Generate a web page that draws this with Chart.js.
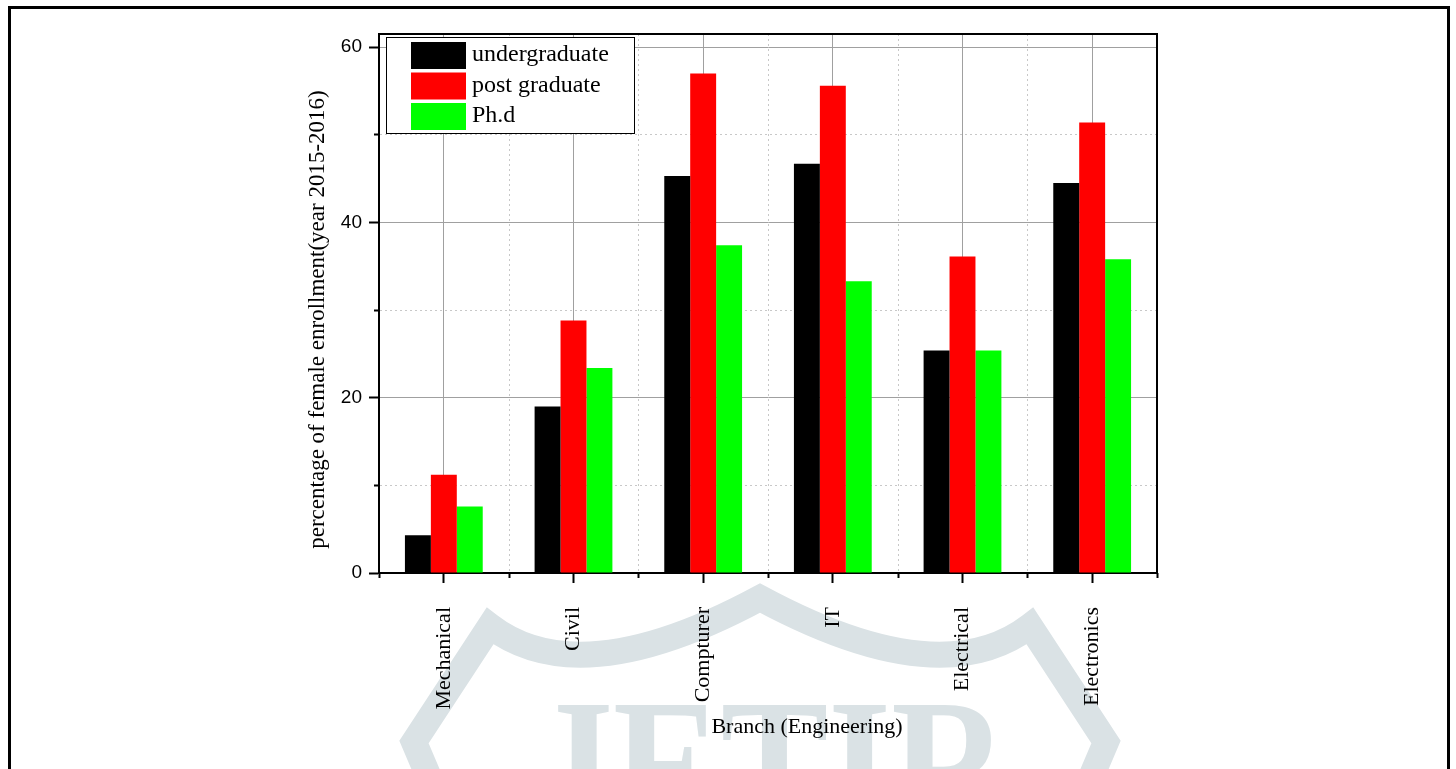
<!DOCTYPE html>
<html>
<head>
<meta charset="utf-8">
<title>Female enrollment by branch</title>
<script src="https://cdn.jsdelivr.net/npm/chart.js@4.4.1/dist/chart.umd.min.js"></script>
<style>
    body { margin: 0; background: #fff; }
    #frame {
        position: absolute; left: 8px; top: 6px;
        width: 1442px; height: 900px;
        box-sizing: border-box; border: 3px solid #000;
    }
    #chart { position: absolute; left: 0; top: 0; }
</style>
</head>
<body>
<div id="frame"></div>
<canvas id="chart" width="1456" height="769"></canvas>
<script>
// Chart data
const branches = ['Mechanical', 'Civil', 'Compturer', 'IT', 'Electrical', 'Electronics'];
const undergraduate = [4.3, 19.0, 45.3, 46.7, 25.4, 44.5];
const postGraduate = [11.2, 28.8, 57.0, 55.6, 36.1, 51.4];
const phd = [7.6, 23.4, 37.4, 33.3, 25.4, 35.8];
const yMax = 61.5;
const yStep = 10;
const yLabelStep = 20;

const serif = '"Liberation Serif", "Times New Roman", serif';
const sans = '"Liberation Sans", Arial, sans-serif';
const majorGrid = '#a0a0a0';
const minorGrid = '#c8c8c8';

// Watermark drawn behind the chart
const watermark = {
    id: 'watermark',
    beforeDraw(chart) {
        const ctx = chart.ctx;
        ctx.save();
        ctx.strokeStyle = '#dae2e5';
        ctx.fillStyle = '#dae2e5';
        ctx.lineWidth = 26;
        ctx.lineJoin = 'miter';
        ctx.beginPath();
        ctx.moveTo(428, 775);
        ctx.lineTo(414, 742);
        ctx.lineTo(490, 626);
        ctx.quadraticCurveTo(580, 695, 760, 598);
        ctx.quadraticCurveTo(940, 695, 1030, 626);
        ctx.lineTo(1106, 742);
        ctx.lineTo(1092, 775);
        ctx.stroke();
        ctx.font = 'bold 190px ' + serif;
        ctx.textAlign = 'center';
        ctx.textBaseline = 'alphabetic';
        ctx.translate(770, 830);
        ctx.scale(0.85, 1);
        ctx.fillText('JETIR', 0, 0);
        ctx.restore();
    }
};

// Minor x ticks and dotted grid lines between categories
const minorX = {
    id: 'minorX',
    beforeDatasetsDraw(chart) {
        const x = chart.scales.x;
        const area = chart.chartArea;
        const ctx = chart.ctx;
        ctx.save();
        for (let i = 0; i <= branches.length; i++) {
            const px = Math.round(x.getPixelForValue(i - 0.5)) + 0.5;
            if (i > 0 && i < branches.length) {
                ctx.strokeStyle = minorGrid;
                ctx.lineWidth = 1;
                ctx.setLineDash([2, 3]);
                ctx.beginPath();
                ctx.moveTo(px, area.top);
                ctx.lineTo(px, area.bottom);
                ctx.stroke();
            }
            ctx.setLineDash([]);
            ctx.strokeStyle = '#000';
            ctx.lineWidth = 2;
            ctx.beginPath();
            ctx.moveTo(px, area.bottom);
            ctx.lineTo(px, area.bottom + 5);
            ctx.stroke();
        }
        ctx.restore();
    }
};

// Top and right frame, legend box and axis titles
const overlay = {
    id: 'overlay',
    afterDraw(chart) {
        const ctx = chart.ctx;
        const a = chart.chartArea;
        ctx.save();
        ctx.strokeStyle = '#000';
        ctx.lineWidth = 2;
        ctx.beginPath();
        ctx.moveTo(a.left, a.top);
        ctx.lineTo(a.right, a.top);
        ctx.lineTo(a.right, a.bottom);
        ctx.stroke();

        // legend
        const bx = a.left + 7, by = a.top + 3;
        ctx.fillStyle = '#fff';
        ctx.fillRect(bx, by, 248, 96);
        ctx.lineWidth = 1;
        ctx.strokeRect(bx + 0.5, by + 0.5, 248, 96);
        ctx.font = '24px ' + serif;
        ctx.textAlign = 'left';
        ctx.textBaseline = 'middle';
        chart.data.datasets.forEach((ds, i) => {
            const ry = by + 5 + i * 30.5;
            ctx.fillStyle = ds.backgroundColor;
            ctx.fillRect(bx + 25, ry, 55, 27);
            ctx.fillStyle = '#000';
            ctx.fillText(ds.label, bx + 86, ry + 13);
        });

        // axis titles
        ctx.fillStyle = '#000';
        ctx.textAlign = 'center';
        ctx.font = '22px ' + serif;
        ctx.fillText('Branch (Engineering)', (a.left + a.right) / 2 + 39, a.bottom + 154);
        ctx.font = '23px ' + serif;
        ctx.translate(a.left - 61, (a.top + a.bottom) / 2 + 16);
        ctx.rotate(-Math.PI / 2);
        ctx.fillText('percentage of female enrollment(year 2015-2016)', 0, 0);
        ctx.restore();
    }
};

const isMajor = v => Math.abs(v % yLabelStep) < 1e-6;

new Chart(document.getElementById('chart'), {
    type: 'bar',
    data: {
        labels: branches,
        datasets: [
            { label: 'undergraduate', data: undergraduate, backgroundColor: '#000000' },
            { label: 'post graduate', data: postGraduate, backgroundColor: '#ff0000' },
            { label: 'Ph.d', data: phd, backgroundColor: '#00ff00' }
        ]
    },
    options: {
        responsive: false,
        animation: false,
        devicePixelRatio: 1,
        categoryPercentage: 0.6,
        barPercentage: 1.0,
        layout: { padding: { left: 0, top: 34, right: 299, bottom: 0 } },
        plugins: {
            legend: { display: false },
            tooltip: { enabled: false }
        },
        scales: {
            x: {
                afterFit: s => { s.height = 196; },
                grid: {
                    offset: false,
                    color: majorGrid,
                    lineWidth: 1,
                    tickLength: 10,
                    tickColor: '#000',
                    tickWidth: 2
                },
                border: { display: true, color: '#000', width: 2 },
                ticks: {
                    autoSkip: false,
                    minRotation: 90,
                    maxRotation: 90,
                    padding: 24,
                    color: '#000',
                    font: { family: serif, size: 22 }
                }
            },
            y: {
                min: 0,
                max: yMax,
                afterFit: s => { s.width = 379; },
                grid: {
                    color: ctx => isMajor(ctx.tick.value) ? majorGrid : minorGrid,
                    lineWidth: 1,
                    tickLength: 10,
                    tickColor: '#000',
                    tickWidth: 2,
                    tickBorderDash: ctx => isMajor(ctx.tick.value) ? [] : [0, 5, 5, 100]
                },
                border: {
                    display: true, color: '#000', width: 2,
                    dash: ctx => (ctx.tick && !isMajor(ctx.tick.value)) ? [2, 3] : []
                },
                ticks: {
                    stepSize: yStep,
                    includeBounds: false,
                    padding: 7,
                    color: '#000',
                    font: { family: sans, size: 19 },
                    callback: v => isMajor(v) ? v : ''
                }
            }
        }
    },
    plugins: [watermark, minorX, overlay]
});
</script>
</body>
</html>
